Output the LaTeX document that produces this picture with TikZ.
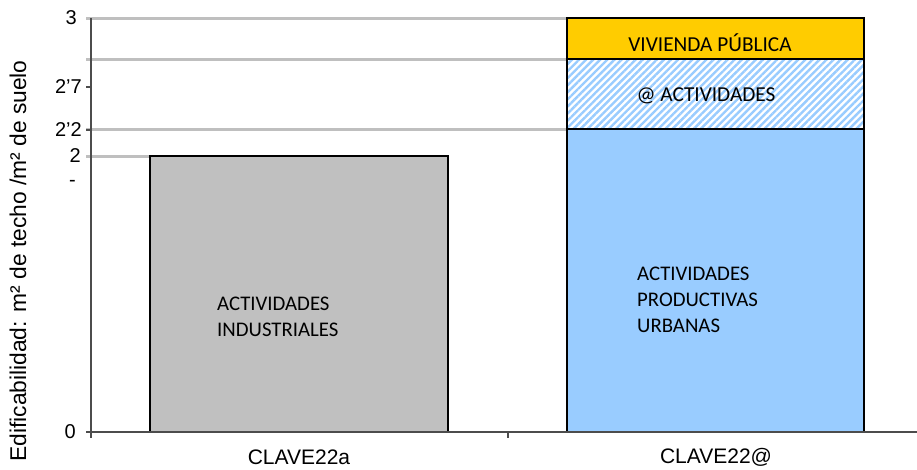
\documentclass[tikz,border=0pt]{standalone}
\usepackage{fontspec}
\setmainfont{Liberation Sans}
\newfontfamily\barfont{Carlito}
\usetikzlibrary{patterns.meta}
\definecolor{grisbarra}{HTML}{C0C0C0}
\definecolor{azulbarra}{HTML}{99CCFF}
\definecolor{amarillo}{HTML}{FFCC00}
\definecolor{guiagris}{HTML}{BFBFBF}

\begin{document}
\begin{tikzpicture}
	[x=1pt,y=-1pt,
	eje/.style={draw=black!70,line width=1.2pt},
	guia/.style={draw=guiagris,line width=3pt},
	barra/.style={draw=black,line width=1.3pt},
	etiq/.style={font=\fontsize{20}{22}\selectfont,anchor=east,inner sep=0pt},
	categ/.style={font=\fontsize{21}{23}\selectfont,inner sep=1pt},
	texto/.style={font=\barfont\fontsize{20.8}{26}\selectfont,align=left,anchor=west,inner sep=0pt},
	titulo/.style={font=\barfont\fontsize{21.3}{24}\selectfont,inner sep=0pt}]
	\useasboundingbox (0,0) rectangle (917,469);
	% lineas guia
	\draw[guia] (86,18) -- (568,18);
	\draw[guia] (86,59) -- (568,59);
	\draw[guia] (86,129) -- (568,129);
	\draw[guia] (86,156) -- (150,156);
	% barra izquierda
	\filldraw[barra,fill=grisbarra] (150,156) rectangle (448,432);
	% barra derecha
	\filldraw[barra,fill=azulbarra] (567,129) rectangle (864,432);
	\fill[white] (567,59) rectangle (864,129);
	\fill[pattern={Lines[angle=45,distance=5pt,line width=2.4pt]},pattern color=azulbarra] (567,59) rectangle (864,129);
	\draw[barra] (567,59) rectangle (864,129);
	\filldraw[barra,fill=amarillo] (567,18) rectangle (864,59);
	% ejes
	\draw[eje] (91,18) -- (91,432);
	\draw[eje] (86,432) -- (917,432);
	\draw[eje] (86,87) -- (91,87);
	\draw[eje] (86,130) -- (91,130);
	\draw[eje] (91,432) -- (91,438);
	\draw[eje] (508,432) -- (508,438);
	% etiquetas del eje
	\node[etiq] (e3) at (77,18) {3};
	\node[etiq] (e27) at (82,87) {2’7};
	\node[etiq] (e22) at (82,130) {2’2};
	\node[etiq] (e2) at (81,156) {2};
	\node[etiq] (eg) at (76,183) {-};
	\node[etiq] (e0) at (76,432) {0};
	\node[categ] (c1) at (299,457) {CLAVE22a};
	\node[categ] (c2) at (716,457) {CLAVE22@};
	\node[categ,font=\fontsize{22.8}{24}\selectfont,rotate=90] (ylab) at (18,261) {Edificabilidad: m² de techo /m² de suelo};
	% textos de las barras
	\node[texto] (ind) at (217,317) {ACTIVIDADES\\INDUSTRIALES};
	\node[texto] (urb) at (637,300) {ACTIVIDADES\\PRODUCTIVAS\\URBANAS};
	\node[titulo] (viv) at (710,43) {VIVIENDA PÚBLICA};
	\node[titulo] (act) at (706,96) {@ ACTIVIDADES};
\end{tikzpicture}
\end{document}
